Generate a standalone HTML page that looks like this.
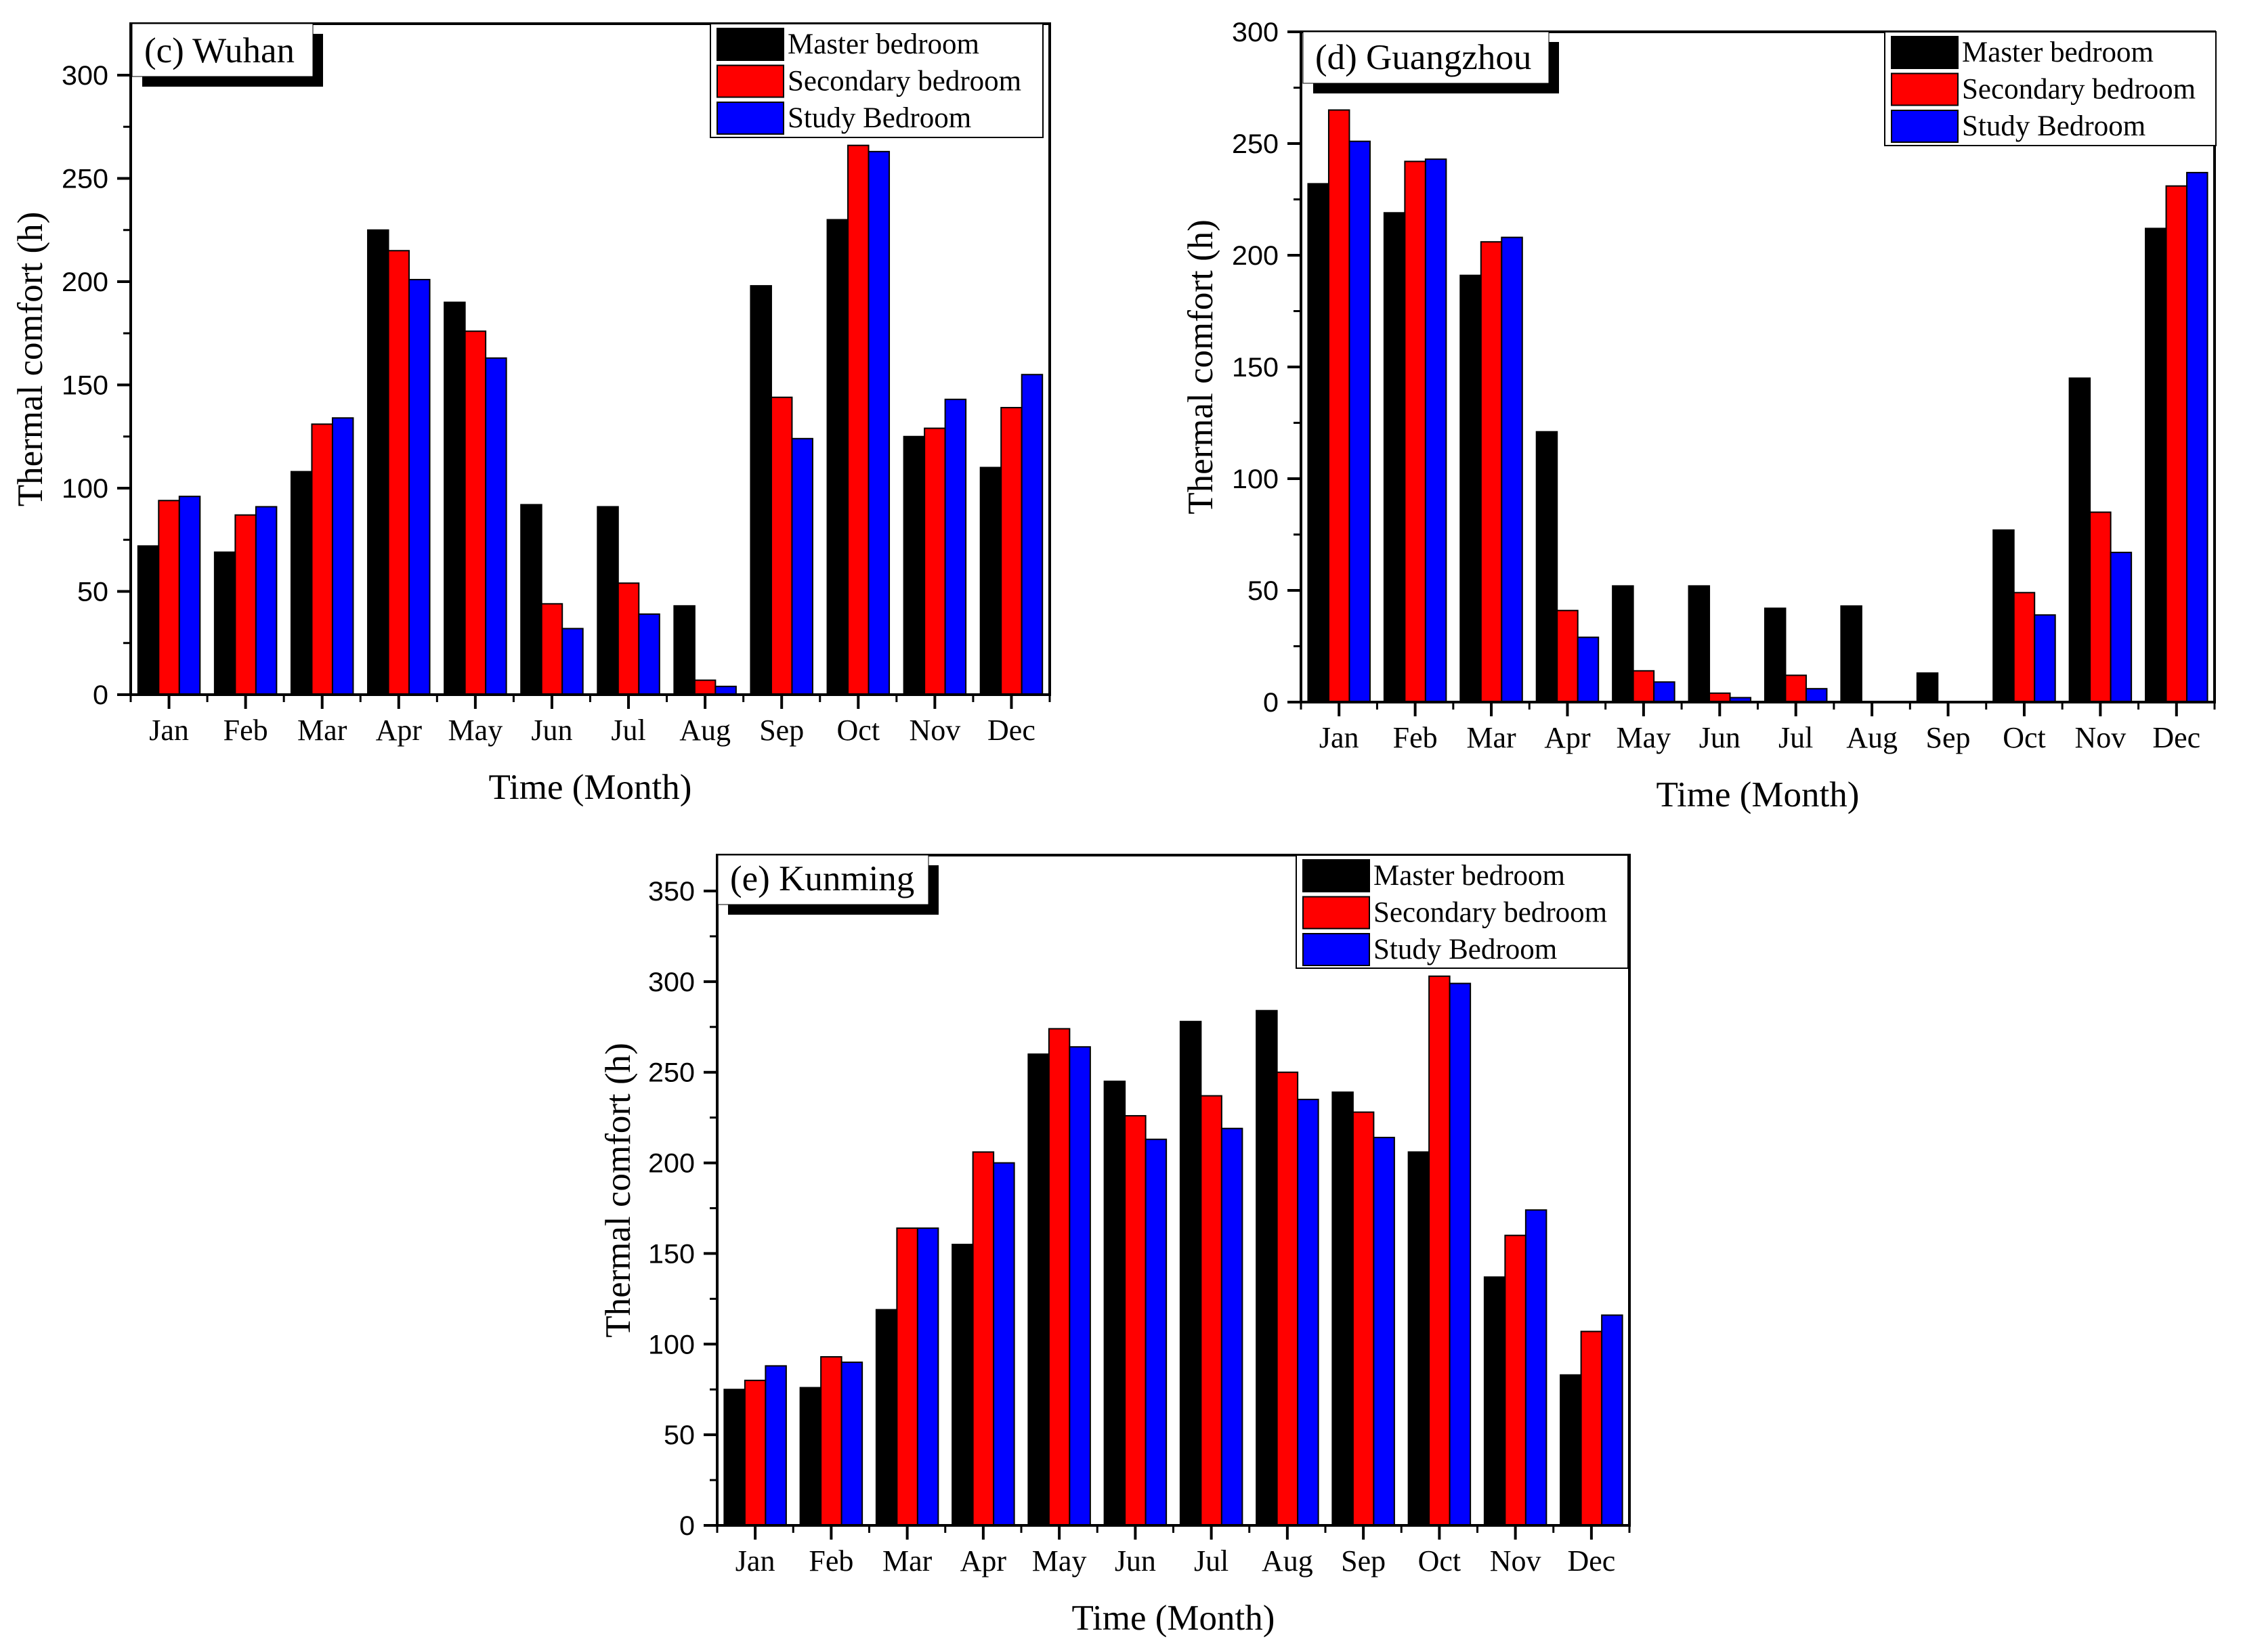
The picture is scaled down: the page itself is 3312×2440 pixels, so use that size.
<!DOCTYPE html>
<html><head><meta charset="utf-8"><style>
html,body{margin:0;padding:0;background:#fff;}
svg{display:block;}
text{font-family:"Liberation Serif",serif;fill:#000;}
.num{font-family:"Liberation Sans",sans-serif;}
</style></head><body>
<svg id="chart" width="3312" height="2440" viewBox="0 0 3312 2440" xmlns="http://www.w3.org/2000/svg"></svg>
<script>
const months = ["Jan","Feb","Mar","Apr","May","Jun","Jul","Aug","Sep","Oct","Nov","Dec"];
const seriesNames = ["Master bedroom","Secondary bedroom","Study Bedroom"];
const seriesColors = ["#000000","#ff0000","#0000ff"];

const wuhanMaster = [72,69,108,225,190,92,91,43,198,230,125,110];
const wuhanSecondary = [94,87,131,215,176,44,54,7,144,266,129,139];
const wuhanStudy = [96,91,134,201,163,32,39,4,124,263,143,155];
const wuhanTicks = [0,50,100,150,200,250,300];

const guangzhouMaster = [232,219,191,121,52,52,42,43,13,77,145,212];
const guangzhouSecondary = [265,242,206,41,14,4,12,0,0,49,85,231];
const guangzhouStudy = [251,243,208,29,9,2,6,0,0,39,67,237];
const guangzhouTicks = [0,50,100,150,200,250,300];

const kunmingMaster = [75,76,119,155,260,245,278,284,239,206,137,83];
const kunmingSecondary = [80,93,164,206,274,226,237,250,228,303,160,107];
const kunmingStudy = [88,90,164,200,264,213,219,235,214,299,174,116];
const kunmingTicks = [0,50,100,150,200,250,300,350];

const NS="http://www.w3.org/2000/svg";
const svg=document.getElementById('chart');
function mk(tag,attrs,parent){const e=document.createElementNS(NS,tag);for(const k in attrs)e.setAttribute(k,attrs[k]);(parent||svg).appendChild(e);return e;}

function drawPanel(p){
  const g=mk('g',{});
  
  
  const yScale=v=>p.y0-(v-0)*(p.y0-p.yRef)/p.ref;
  const yTopVal=(p.y0-p.top)/((p.y0-p.yRef)/p.ref);
  const sp=(p.right-p.left)/months.length;
  const xC=i=>p.left+sp*(i+0.5);
  const bw=30.5;
  const data=[p.master,p.secondary,p.study];
  data.forEach((arr,s)=>{
    arr.forEach((v,i)=>{
      if(v<=0) return;
      const x=xC(i)-1.5*bw+s*bw;
      const r=mk('rect',{x:x,y:yScale(v),width:bw,height:p.y0-yScale(v),fill:seriesColors[s],stroke:'#000','stroke-width':2},g);
      
      
    });
  });
  const fr=mk('rect',{x:p.left,y:p.top,width:p.right-p.left,height:p.y0-p.top,fill:'none',stroke:'#000','stroke-width':4},g);
  
  
  p.ticks.forEach(t=>{
    const y=yScale(t);
    mk('line',{x1:p.left-20,x2:p.left,y1:y,y2:y,stroke:'#000','stroke-width':4},g);
    const tl=mk('text',{x:p.left-33,y:y+14,'text-anchor':'end','font-size':40,class:'num',textLength:String(t).length*23,lengthAdjust:'spacingAndGlyphs'},g);
    tl.textContent=t;
    
    
    const m=t+25;
    if(m<yTopVal){const ym=yScale(m);mk('line',{x1:p.left-11,x2:p.left,y1:ym,y2:ym,stroke:'#000','stroke-width':3},g);}
  });
  months.forEach((mo,i)=>{
    mk('line',{x1:xC(i),x2:xC(i),y1:p.y0,y2:p.y0+21,stroke:'#000','stroke-width':4},g);
    mk('line',{x1:p.left+sp*i,x2:p.left+sp*i,y1:p.y0,y2:p.y0+11,stroke:'#000','stroke-width':3},g);
    const tl=mk('text',{x:xC(i),y:p.y0+67,'text-anchor':'middle','font-size':44},g);
    tl.textContent=mo;
    
    
  });
  mk('line',{x1:p.right,x2:p.right,y1:p.y0,y2:p.y0+11,stroke:'#000','stroke-width':3},g);
  const xt=mk('text',{x:(p.left+p.right)/2,y:p.y0+154,'text-anchor':'middle','font-size':53},g);
  xt.textContent='Time (Month)';
  
  
  const cy=(p.top+p.y0)/2;
  const yt=mk('text',{x:p.yTitleX,y:cy,'text-anchor':'middle','font-size':53,transform:'rotate(-90 '+p.yTitleX+' '+cy+')'},g);
  yt.textContent='Thermal comfort (h)';
  
  
  const lb=p.label;
  mk('rect',{x:lb.x+15,y:lb.y+15,width:lb.w,height:lb.h,fill:'#000'},g);
  mk('rect',{x:lb.x,y:lb.y,width:lb.w,height:lb.h,fill:'#fff',stroke:'#000','stroke-width':1},g);
  const lt=mk('text',{x:lb.x+18,y:lb.y+lb.h-21,'font-size':53},g);
  lt.textContent=lb.text;
  
  
  const L=p.legend;
  const lg=mk('g',{},g);
  
  
  mk('rect',{x:L.x,y:L.y,width:L.w,height:L.h,fill:'#fff',stroke:'#000','stroke-width':2},lg);
  seriesNames.forEach((n,s)=>{
    const ry=L.y+7+s*54.5;
    const sw=mk('rect',{x:L.x+10,y:ry,width:98,height:47,fill:seriesColors[s],stroke:'#000','stroke-width':2},lg);
    
    
    const t=mk('text',{x:L.x+114,y:ry+37,'font-size':43},lg);
    t.textContent=n;
    
    
  });
}

drawPanel({id:'wuhan',left:193,right:1550,top:35,y0:1026,yRef:111,ref:300,ticks:wuhanTicks,
  master:wuhanMaster,secondary:wuhanSecondary,study:wuhanStudy,yTitleX:62,
  label:{x:195,y:35,w:267,h:78,text:'(c) Wuhan'},
  legend:{x:1049,y:35,w:491,h:168}});
drawPanel({id:'guangzhou',left:1921,right:3270,top:47,y0:1037,yRef:47,ref:300,ticks:guangzhouTicks,
  master:guangzhouMaster,secondary:guangzhouSecondary,study:guangzhouStudy,yTitleX:1790,
  label:{x:1924,y:47,w:363,h:76,text:'(d) Guangzhou'},
  legend:{x:2783,y:47,w:489,h:168}});
drawPanel({id:'kunming',left:1059,right:2406,top:1263,y0:2253,yRef:1316,ref:350,ticks:kunmingTicks,
  master:kunmingMaster,secondary:kunmingSecondary,study:kunmingStudy,yTitleX:930,
  label:{x:1060,y:1263,w:311,h:73,text:'(e) Kunming'},
  legend:{x:1914,y:1263,w:490,h:167}});
</script>
</body></html>
